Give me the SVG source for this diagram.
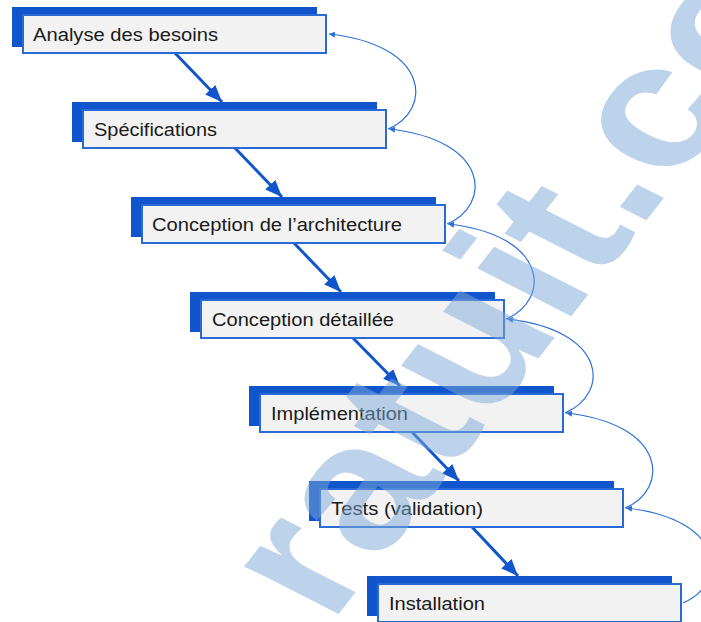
<svg xmlns="http://www.w3.org/2000/svg" width="701" height="622" viewBox="0 0 701 622">
  <defs>
    <marker id="bigArrow" markerUnits="userSpaceOnUse" markerWidth="18" markerHeight="14" refX="17" refY="7" orient="auto">
      <path d="M0,0 L17,7 L0,14 Z" fill="#1155cc"/>
    </marker>
    <marker id="smallArrow" markerUnits="userSpaceOnUse" markerWidth="7" markerHeight="6" refX="6" refY="3" orient="auto">
      <path d="M0,0 L6,3 L0,6 Z" fill="#2b6fd6"/>
    </marker>
    <style>
      .shadow { fill: #1155cc; }
      .box { fill: #f2f2f2; stroke: #2a6ad6; stroke-width: 2; }
      .label { font-family: "Liberation Sans", Arial, sans-serif; font-size: 17.5px; fill: #1a1a1a; }
      .down { stroke: #1155cc; stroke-width: 3; fill: none; marker-end: url(#bigArrow); }
      .back { stroke: #2b6fd6; stroke-width: 1.2; fill: none; marker-end: url(#smallArrow); }
      .wm { font-family: "Liberation Sans", Arial, sans-serif; font-weight: bold; font-size: 200px; fill: #7ba7d8; fill-opacity: 0.5; }
    </style>
  </defs>
  <rect width="701" height="622" fill="#ffffff"/>

  <g id="connectors">
    <line class="down" x1="175" y1="53" x2="222" y2="102"/>
    <line class="down" x1="235" y1="148" x2="282" y2="197"/>
    <line class="down" x1="294" y1="243" x2="341" y2="292"/>
    <line class="down" x1="353" y1="338" x2="400" y2="386"/>
    <line class="down" x1="412" y1="432" x2="459" y2="481"/>
    <line class="down" x1="472" y1="527" x2="518" y2="576"/>

    <path class="back" d="M388,129 C433,110 430,45 329,34"/>
    <path class="back" d="M447,224 C492,205 490,140 389,129"/>
    <path class="back" d="M506,319 C551,300 549,235 448,224"/>
    <path class="back" d="M565,413 C610,394 608,330 507,319"/>
    <path class="back" d="M625,508 C670,489 667,424 566,413"/>
    <path class="back" d="M683,603 C728,584 727,519 626,508"/>
  </g>

  <g id="n1">
    <rect class="shadow" x="12" y="7" width="305" height="40"/>
    <rect class="box" x="23" y="15" width="303" height="38"/>
    <text class="label" x="33" y="41" textLength="185" lengthAdjust="spacingAndGlyphs">Analyse des besoins</text>
  </g>
  <g id="n2">
    <rect class="shadow" x="72" y="102" width="305" height="40"/>
    <rect class="box" x="83" y="110" width="303" height="38"/>
    <text class="label" x="94" y="136" textLength="123" lengthAdjust="spacingAndGlyphs">Spécifications</text>
  </g>
  <g id="n3">
    <rect class="shadow" x="131" y="197" width="305" height="40"/>
    <rect class="box" x="142" y="205" width="303" height="38"/>
    <text class="label" x="152" y="231" textLength="250" lengthAdjust="spacingAndGlyphs">Conception de l’architecture</text>
  </g>
  <g id="n4">
    <rect class="shadow" x="190" y="292" width="305" height="40"/>
    <rect class="box" x="201" y="300" width="303" height="38"/>
    <text class="label" x="212" y="326" textLength="182" lengthAdjust="spacingAndGlyphs">Conception détaillée</text>
  </g>
  <g id="n5">
    <rect class="shadow" x="249" y="386" width="305" height="40"/>
    <rect class="box" x="260" y="394" width="303" height="38"/>
    <text class="label" x="271" y="420" textLength="137" lengthAdjust="spacingAndGlyphs">Implémentation</text>
  </g>
  <g id="n6">
    <rect class="shadow" x="309" y="481" width="305" height="40"/>
    <rect class="box" x="320" y="489" width="303" height="38"/>
    <text class="label" x="331" y="515" textLength="152" lengthAdjust="spacingAndGlyphs">Tests (validation)</text>
  </g>
  <g id="n7">
    <rect class="shadow" x="367" y="576" width="305" height="40"/>
    <rect class="box" x="378" y="584" width="303" height="38"/>
    <text class="label" x="389" y="610" textLength="96" lengthAdjust="spacingAndGlyphs">Installation</text>
  </g>

  <g id="watermark" transform="matrix(0.616,-0.788,0.891,0.454,638,231)">
    <text class="wm" x="0" y="0" text-anchor="end">ratuit</text>
    <text class="wm" x="0" y="0">.com</text>
  </g>
</svg>
